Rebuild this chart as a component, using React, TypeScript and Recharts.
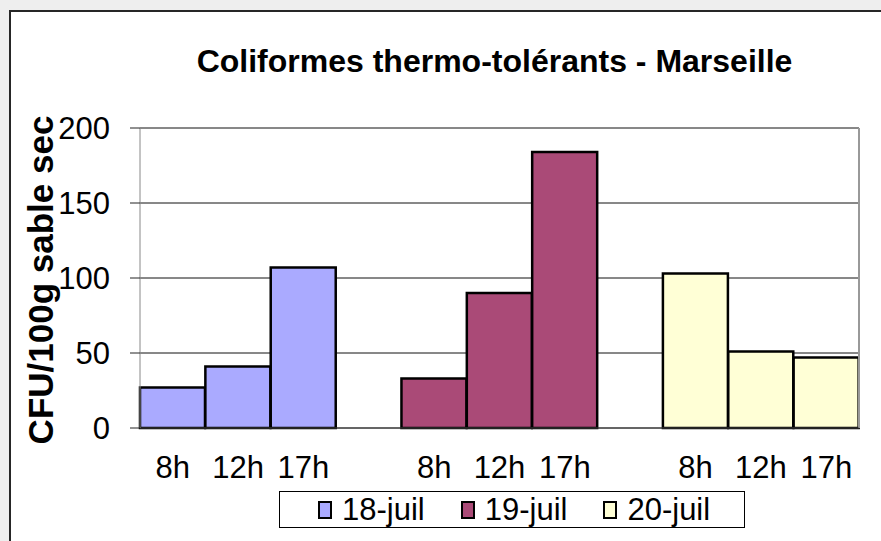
import React from "react";
import {
  BarChart,
  Bar,
  XAxis,
  YAxis,
  CartesianGrid,
  ReferenceLine,
} from "recharts";

// one slot per bar, empty slots separate the days
const hours = ["8h", "12h", "17h", "", "8h", "12h", "17h", "", "8h", "12h", "17h"];
const juil18 = [27, 41, 107, null, null, null, null, null, null, null, null];
const juil19 = [null, null, null, null, 33, 90, 184, null, null, null, null];
const juil20 = [null, null, null, null, null, null, null, null, 103, 51, 47];
const yTicks = [0, 50, 100, 150, 200];

const SERIES = [
  { key: "j18", name: "18-juil", color: "#aaaaff" },
  { key: "j19", name: "19-juil", color: "#aa4a77" },
  { key: "j20", name: "20-juil", color: "#ffffd6" },
];

const FONT = "'Liberation Sans', Arial, Helvetica, sans-serif";

const data = hours.map((h, i) => ({
  slot: i + 0.5,
  label: h,
  j18: juil18[i],
  j19: juil19[i],
  j20: juil20[i],
}));

const edgeTicks = hours.map((_, i) => i).concat(hours.length);

const YLabel = ({ viewBox }: any) => {
  const x = viewBox.x + 53;
  const y = viewBox.y + viewBox.height / 2 + 2;
  return (
    <text
      x={x}
      y={y}
      transform={`rotate(-90, ${x}, ${y})`}
      textAnchor="middle"
      fontFamily={FONT}
      fontWeight="bold"
      fontSize={35}
      fill="#000"
    >
      CFU/100g sable sec
    </text>
  );
};

export default function App() {
  return (
    <div
      style={{
        position: "fixed",
        left: 0,
        top: 0,
        width: 881,
        height: 541,
        background: "#eeeeee",
        overflow: "hidden",
        fontFamily: FONT,
      }}
    >
      <div
        style={{
          position: "absolute",
          left: 9,
          top: 10,
          width: 880,
          height: 540,
          background: "#fff",
          borderLeft: "2px solid #262626",
          borderTop: "2px solid #262626",
        }}
      />
      <div
        style={{
          position: "absolute",
          left: 0,
          width: 881,
          top: 45,
          textAlign: "center",
          fontWeight: "bold",
          fontSize: 32,
          lineHeight: "32px",
          color: "#000",
          paddingLeft: 108,
          boxSizing: "border-box",
        }}
      >
        Coliformes thermo-tolérants - Marseille
      </div>
      <div style={{ position: "absolute", left: 0, top: 0 }}>
        <BarChart
          width={881}
          height={541}
          data={data}
          barCategoryGap={0}
          margin={{ top: 128, right: 22, bottom: 73, left: 0 }}
        >
          <CartesianGrid xAxisId="cat" vertical={false} stroke="#111" />
          <XAxis
            xAxisId="edges"
            type="number"
            dataKey="slot"
            domain={[0, hours.length]}
            ticks={edgeTicks}
            allowDataOverflow
            height={0}
            axisLine={false}
            tickLine={{ stroke: "#333" }}
            tickSize={9}
            tickFormatter={() => ""}
          />
          <XAxis
            xAxisId="cat"
            dataKey="label"
            height={40}
            axisLine={{ stroke: "#444" }}
            tickLine={false}
            tickMargin={22}
            interval={0}
            tick={{ fill: "#000", fontSize: 31, fontFamily: FONT }}
          />
          <YAxis
            width={140}
            domain={[0, 200]}
            ticks={yTicks}
            interval={0}
            axisLine={{ stroke: "#888" }}
            tickLine={{ stroke: "#222" }}
            tickSize={10}
            tickMargin={20}
            tick={{ fill: "#000", fontSize: 31, fontFamily: FONT }}
            label={<YLabel />}
          />
          <ReferenceLine xAxisId="edges" x={hours.length} stroke="#999" strokeWidth={2} />
          {SERIES.map((s) => (
            <Bar
              key={s.key}
              xAxisId="cat"
              dataKey={s.key}
              name={s.name}
              stackId="day"
              fill={s.color}
              stroke="#000"
              strokeWidth={2.5}
              isAnimationActive={false}
            />
          ))}
        </BarChart>
      </div>
      <div
        style={{
          position: "absolute",
          left: 279,
          top: 491,
          width: 466,
          height: 37,
          border: "1px solid #000",
          boxSizing: "border-box",
          background: "#fff",
          display: "flex",
          alignItems: "center",
          paddingLeft: 38,
          whiteSpace: "nowrap",
          overflow: "hidden",
        }}
      >
        {SERIES.map((s) => (
          <div
            key={s.key}
            style={{
              display: "flex",
              alignItems: "center",
              marginRight: 36,
              flexShrink: 0,
            }}
          >
            <span
              style={{
                display: "inline-block",
                width: 10,
                height: 14,
                background: s.color,
                border: "2px solid #000",
                marginRight: 10,
              }}
            />
            <span style={{ fontSize: 31, lineHeight: "32px", color: "#000" }}>
              {s.name}
            </span>
          </div>
        ))}
      </div>
    </div>
  );
}
